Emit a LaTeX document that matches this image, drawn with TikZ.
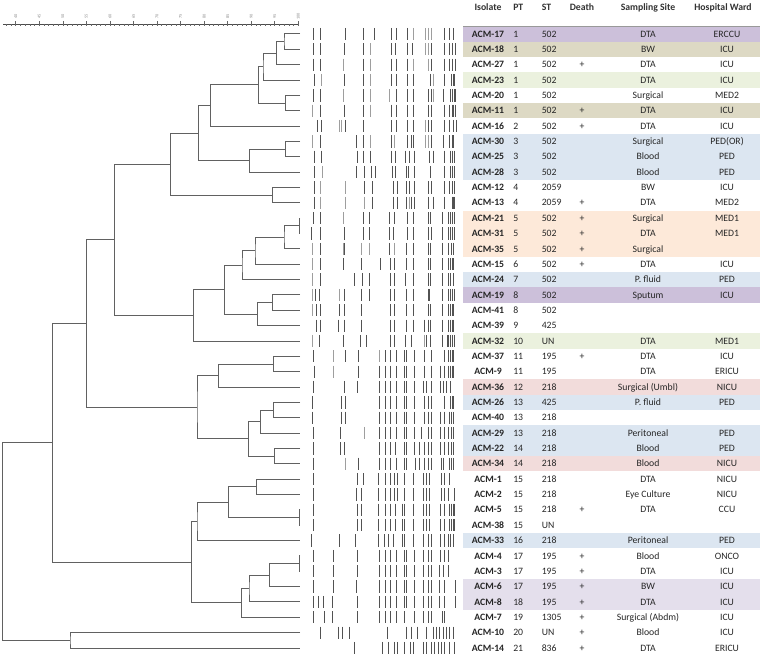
\documentclass[tikz,border=0pt]{standalone}
\usepackage{fontspec}
\setmainfont{Carlito}
\usetikzlibrary{calc}
\definecolor{cPur}{HTML}{CCC0DA}
\definecolor{cTan}{HTML}{DDD9C4}
\definecolor{cGrn}{HTML}{EBF1DE}
\definecolor{cBlu}{HTML}{DCE6F1}
\definecolor{cPch}{HTML}{FDE9D9}
\definecolor{cPnk}{HTML}{F2DCDB}
\definecolor{cLav}{HTML}{E4DFEC}
\definecolor{txt}{HTML}{262626}
\tikzset{
  dend/.style={draw=black!62, line width=0.75pt},
  bandd/.style={draw=black!68, line width=0.6pt},
  bandl/.style={draw=black!38, line width=0.6pt},
  cell/.style={inner sep=0pt, text height=4.7pt, text depth=0pt, text=txt},
  iso/.style={cell, font=\fontsize{7.3}{8.5}\selectfont\bfseries},
  lcell/.style={cell, anchor=west},
  hdr/.style={cell, font=\fontsize{7.3}{8.5}\selectfont\bfseries, text=black!80},
  sclab/.style={inner sep=0pt, rotate=90, text=black!45, font=\fontsize{3.2}{3.5}\selectfont},
  axisline/.style={draw=black!70, line width=0.5pt}
}
\newcommand\trow[7]{%
  \node[iso] (i#1) at (488,#1) {#2};
  \node[lcell] (p#1) at (513,#1) {#3};
  \node[lcell] (s#1) at (541.5,#1) {#4};
  \node[cell] (d#1) at (582,#1) {#5};
  \node[cell] (ss#1) at (648,#1) {#6};
  \node[cell] (w#1) at (727,#1) {#7};}
\newcommand\bandrow[2]{\fill[#2] (463,#1-0.5) rectangle (760,#1+0.5);}
\newcommand\gelrow[2]{\foreach \g in {#2} {\draw[bandd] (\g,#1-0.4) -- (\g,#1+0.4);}}
\newcommand\gellight[2]{\foreach \g in {#2} {\draw[bandl] (\g,#1-0.4) -- (\g,#1+0.4);}}
\newcommand\djoin[5]{\coordinate (#1) at (#2,#3); \draw[dend] (#4) -| (#1) |- (#5);}
\begin{document}
\begin{tikzpicture}[x=0.75pt,y=-0.75pt, font=\fontsize{7.3}{8.5}\selectfont]
\useasboundingbox (0,0) rectangle (760,656);
\fill[white] (0,0) rectangle (760,656);
% ---------- scale ----------
\coordinate (axL) at (3,24.3);
\coordinate (axR) at (298.5,24.3);
\draw[axisline] (axL) -- (axR);
\foreach \v in {38,...,100} {\draw[draw=black!60, line width=0.4pt] ({15.7+(\v-40)*4.71},24.3) -- ++(0,1.6);}
\foreach \v in {40,45,...,100} {
  \draw[draw=black!60, line width=0.4pt] ({15.7+(\v-40)*4.71},24.3) -- ++(0,-3);
  \node[sclab] (lab\v) at ({15.7+(\v-40)*4.71},16.5) {\v};
}
% ---------- header ----------
\node[hdr] (hIso) at (488,7) {Isolate};
\node[hdr, anchor=west] (hPT) at (513,7) {PT};
\node[hdr, anchor=west] (hST) at (541.5,7) {ST};
\node[hdr] (hDeath) at (582,7) {Death};
\node[hdr] (hSite) at (648,7) {Sampling Site};
\node[hdr] (hWard) at (723,7) {Hospital Ward};
\begin{scope}[yshift=-25.5pt, y=-11.5125pt]
% ---------- coloured rows ----------
\bandrow{0}{cPur}
\bandrow{1}{cTan}
\bandrow{3}{cGrn}
\bandrow{5}{cTan}
\bandrow{7}{cBlu}\bandrow{8}{cBlu}\bandrow{9}{cBlu}
\bandrow{12}{cPch}\bandrow{13}{cPch}\bandrow{14}{cPch}
\bandrow{16}{cBlu}
\bandrow{17}{cPur}
\bandrow{20}{cGrn}
\bandrow{23}{cPnk}
\bandrow{24}{cBlu}
\bandrow{26}{cBlu}\bandrow{27}{cBlu}
\bandrow{28}{cPnk}
\bandrow{33}{cBlu}
\bandrow{36}{cLav}\bandrow{37}{cLav}
\coordinate (tlL) at (463,-0.5);
\coordinate (tlR) at (760,-0.5);
\draw[draw=black!40, line width=0.8pt] (tlL) -- (tlR);
% ---------- table ----------
\trow{0}{ACM-17}{1}{502}{}{DTA}{ERCCU}
\trow{1}{ACM-18}{1}{502}{}{BW}{ICU}
\trow{2}{ACM-27}{1}{502}{+}{DTA}{ICU}
\trow{3}{ACM-23}{1}{502}{}{DTA}{ICU}
\trow{4}{ACM-20}{1}{502}{}{Surgical}{MED2}
\trow{5}{ACM-11}{1}{502}{+}{DTA}{ICU}
\trow{6}{ACM-16}{2}{502}{+}{DTA}{ICU}
\trow{7}{ACM-30}{3}{502}{}{Surgical}{PED(OR)}
\trow{8}{ACM-25}{3}{502}{}{Blood}{PED}
\trow{9}{ACM-28}{3}{502}{}{Blood}{PED}
\trow{10}{ACM-12}{4}{2059}{}{BW}{ICU}
\trow{11}{ACM-13}{4}{2059}{+}{DTA}{MED2}
\trow{12}{ACM-21}{5}{502}{+}{Surgical}{MED1}
\trow{13}{ACM-31}{5}{502}{+}{DTA}{MED1}
\trow{14}{ACM-35}{5}{502}{+}{Surgical}{}
\trow{15}{ACM-15}{6}{502}{+}{DTA}{ICU}
\trow{16}{ACM-24}{7}{502}{}{P. fluid}{PED}
\trow{17}{ACM-19}{8}{502}{}{Sputum}{ICU}
\trow{18}{ACM-41}{8}{502}{}{}{}
\trow{19}{ACM-39}{9}{425}{}{}{}
\trow{20}{ACM-32}{10}{UN}{}{DTA}{MED1}
\trow{21}{ACM-37}{11}{195}{+}{DTA}{ICU}
\trow{22}{ACM-9}{11}{195}{}{DTA}{ERICU}
\trow{23}{ACM-36}{12}{218}{}{Surgical (Umbl)}{NICU}
\trow{24}{ACM-26}{13}{425}{}{P. fluid}{PED}
\trow{25}{ACM-40}{13}{218}{}{}{}
\trow{26}{ACM-29}{13}{218}{}{Peritoneal}{PED}
\trow{27}{ACM-22}{14}{218}{}{Blood}{PED}
\trow{28}{ACM-34}{14}{218}{}{Blood}{NICU}
\trow{29}{ACM-1}{15}{218}{}{DTA}{NICU}
\trow{30}{ACM-2}{15}{218}{}{Eye Culture}{NICU}
\trow{31}{ACM-5}{15}{218}{+}{DTA}{CCU}
\trow{32}{ACM-38}{15}{UN}{}{}{}
\trow{33}{ACM-33}{16}{218}{}{Peritoneal}{PED}
\trow{34}{ACM-4}{17}{195}{+}{Blood}{ONCO}
\trow{35}{ACM-3}{17}{195}{+}{DTA}{ICU}
\trow{36}{ACM-6}{17}{195}{+}{BW}{ICU}
\trow{37}{ACM-8}{18}{195}{+}{DTA}{ICU}
\trow{38}{ACM-7}{19}{1305}{+}{Surgical (Abdm)}{ICU}
\trow{39}{ACM-10}{20}{UN}{+}{Blood}{ICU}
\trow{40}{ACM-14}{21}{836}{+}{DTA}{ERICU}
% ---------- gel bands ----------
\begin{scope}[xshift=223.5pt, x=0.25pt]
\gelrow{0}{45,67,142,195,228,280,295,328,438,455,465}\gellight{0}{347,383,391,400}
\gelrow{1}{45,67,140,195,280,293,328,343,400,438,455,462,472}\gellight{1}{218,381,391}
\gelrow{2}{45,67,195,280,295,328,400,438,455,462,472}\gellight{2}{137,218,347,391}
\gelrow{3}{49,139,195,280,295,328,347,398,438,460,465,470}\gellight{3}{69,218,405}
\gelrow{4}{45,67,195,295,328,347,391,400,436,458,462,468,472}\gellight{4}{137,218,275,407}
\gelrow{5}{67,139,195,280,295,328,347,391,400,438,455,462,466,472}\gellight{5}{43,218}
\gelrow{6}{58,70,142,195,280,295,328,347,391,400,438,455,465,474}\gellight{6}{123,130,383}
\gelrow{7}{67,175,195,280,328,340,347,400,436,455,462,467}\gellight{7}{43,218,290,383,391}
\gelrow{8}{48,70,178,195,218,280,293,323,333,350,393,405,440,456,462,470}
\gelrow{9}{50,175,198,220,232,283,293,325,330,350,398,440,456,463,470}\gellight{9}{72}
\gelrow{10}{48,198,222,285,297,325,333,350,390,400,440,455,462,464,470}\gellight{10}{68,143}
\gelrow{11}{48,222,287,297,325,340,350,390,405,440,462,465,470}\gellight{11}{68,143,198,333}
\gelrow{12}{45,67,195,213,275,290,328,347,391,398,433,452,458,463,470}\gellight{12}{137}
\gelrow{13}{40,68,140,195,215,275,285,328,347,391,400,433,450,457,463,470}
\gelrow{14}{67,140,275,325,345,390,397,433,452,460,467}\gellight{14}{43,135,190,213,290}
\gelrow{15}{67,135,190,247,278,290,325,345,390,397,433,452,457,462,467}\gellight{15}{43}
\gelrow{16}{67,170,193,215,278,290,322,345,390,397,433,452,458,467}\gellight{16}{43}
\gelrow{17}{52,64,138,190,215,278,290,325,345,390,395,433,452,458,463,470}\gellight{17}{43,125}
\gelrow{18}{55,67,123,138,190,278,290,325,345,390,397,433,452,457,462,467}\gellight{18}{43}
\gelrow{19}{55,67,122,138,190,278,290,325,345,380,390,397,433,452,458,463,467}
\gelrow{20}{65,137,187,205,278,290,322,340,385,397,433,447,452,458,463,470}\gellight{20}{43,380}
\gelrow{21}{47,142,182,262,278,295,318,325,348,380,400,440,452,458,462,467}\gellight{21}{107,245}
\gelrow{22}{49,180,243,262,278,295,318,325,350,380,400,428,438,452,458,462,467}\gellight{22}{107}
\gelrow{23}{47,140,178,245,262,278,295,318,325,350,377,385,400,428,436,445,458}
\gelrow{24}{43,130,142,245,262,278,295,318,325,350,380,390,400,440,458,462,467}
\gelrow{25}{43,130,142,245,262,278,295,318,325,350,380,390,400,428,438,455,460,465}
\gelrow{26}{45,128,245,262,278,295,318,325,350,370,390,400,428,438,452,460,465}\gellight{26}{200}
\gelrow{27}{45,128,140,245,262,278,293,318,325,350,365,380,390,400,428,438,452,460,465}
\gelrow{28}{45,182,245,262,278,295,318,325,352,365,380,390,400,430,437,455,460,465}\gellight{28}{143}
\gelrow{29}{45,178,195,240,262,278,290,297,318,345,375,385,395,430,438,455}
\gelrow{30}{45,175,190,240,262,278,290,297,320,345,375,385,395,430,438,452,470}
\gelrow{31}{45,178,190,240,262,278,292,312,320,345,375,385,395,428,438,455,460,465,470}
\gelrow{32}{45,178,190,240,262,278,292,312,320,345,375,385,395,428,438,455,460,465,470}
\gelrow{33}{40,125,172,240,258,270,285,312,320,345,375,390,400,428,440,450,458,465}
\gelrow{34}{47,107,178,245,262,278,295,318,325,350,375,390,400,428,438,450}
\gelrow{35}{47,107,178,245,262,278,295,318,325,350,375,390,400,425,435,450}
\gelrow{36}{45,107,176,245,262,278,295,318,325,350,375,390,400,425,440,472}
\gelrow{37}{45,62,77,103,178,245,262,278,295,318,325,350,375,390,400,425,440,472}
\gelrow{38}{47,80,103,178,245,262,278,295,318,350,375,390,400,433,440}
\gelrow{39}{68,122,133,153,268,325,340,358,385,405,415,425,435,445,455,465}
\gelrow{40}{170,253,270,290,297,320,337,345,375,385,400,410,420,430,440,455,470}
\end{scope}
% ---------- dendrogram ----------
\foreach \r in {0,...,40} {\coordinate (n\r) at (300,\r);}
\djoin{A}{284}{0.5}{n0}{n1}
\djoin{B}{276.7}{1.25}{A}{n2}
\djoin{C}{263}{2.125}{B}{n3}
\djoin{D}{285.7}{4.5}{n4}{n5}
\djoin{E}{258.7}{3.3125}{C}{D}
\djoin{F}{210.7}{4.656}{E}{n6}
\djoin{G}{285.7}{7.5}{n7}{n8}
\djoin{H}{249.3}{8.25}{G}{n9}
\djoin{I}{198.7}{6.453}{F}{H}
\djoin{J}{272.3}{10.5}{n10}{n11}
\djoin{K}{170.3}{8.477}{I}{J}
\djoin{L}{299.3}{12.5}{n12}{n13}
\djoin{M}{284}{13.25}{L}{n14}
\djoin{N}{255}{14.125}{M}{n15}
\djoin{O}{242}{15.06}{N}{n16}
\djoin{P}{272.3}{17.5}{n17}{n18}
\djoin{Q}{257.7}{18.25}{P}{n19}
\djoin{R}{224.7}{16.66}{O}{Q}
\djoin{S}{193.7}{18.33}{R}{n20}
\djoin{T}{114.7}{13.4}{K}{S}
\djoin{U}{273.3}{21.5}{n21}{n22}
\djoin{V}{218.7}{22.25}{U}{n23}
\djoin{W}{273.3}{24.5}{n24}{n25}
\djoin{X}{260.3}{25.25}{W}{n26}
\djoin{Y}{274.3}{27.5}{n27}{n28}
\djoin{Z}{248.3}{26.375}{X}{Y}
\djoin{AA}{197}{24.31}{V}{Z}
\djoin{AB}{86.7}{18.86}{T}{AA}
\djoin{AC}{256.3}{29.5}{n29}{n30}
\djoin{ADz}{299.3}{31.5}{n31}{n32}
\djoin{AD}{228.7}{30.5}{AC}{ADz}
\djoin{AE}{197}{31.75}{AD}{n33}
\djoin{AFz}{299.3}{34.5}{n34}{n35}
\djoin{AF}{269.3}{35.25}{AFz}{n36}
\djoin{AG}{249}{36.125}{AF}{n37}
\djoin{AH}{241.3}{37.06}{AG}{n38}
\djoin{AI}{191.7}{34.4}{AE}{AH}
\djoin{AJ}{52.7}{26.63}{AB}{AI}
\djoin{AK}{70}{39.5}{n39}{n40}
\djoin{RT}{2.7}{33.07}{AJ}{AK}
\end{scope}
\end{tikzpicture}
\end{document}
